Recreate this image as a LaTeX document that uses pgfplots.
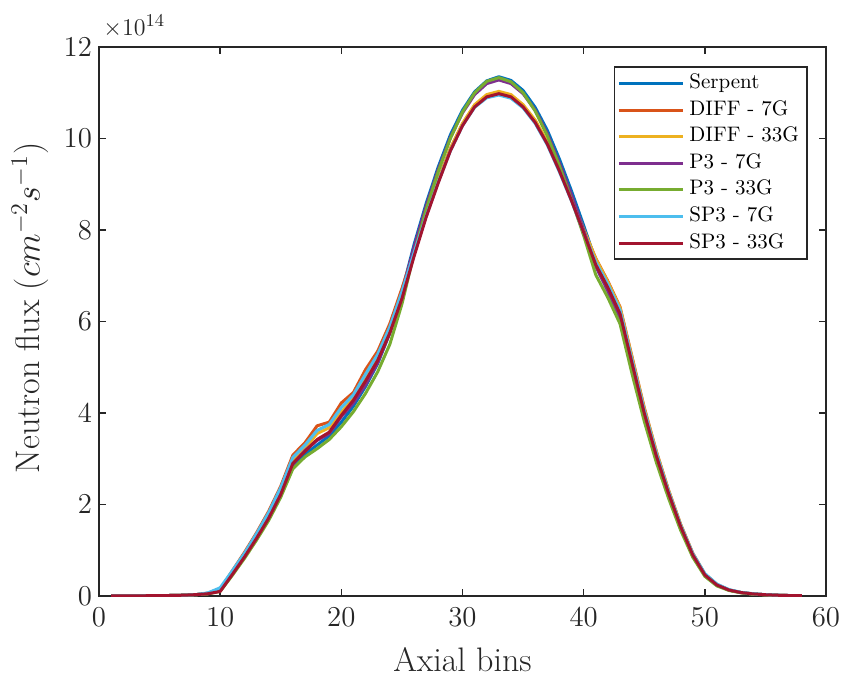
\documentclass[border=0pt]{standalone}
\usepackage{pgfplots}
\pgfplotsset{compat=1.18}
\usepackage{pgfplotstable}
\usetikzlibrary{calc}
\definecolor{mblue}{rgb}{0,0.447,0.741}
\definecolor{morange}{rgb}{0.85,0.325,0.098}
\definecolor{myellow}{rgb}{0.929,0.694,0.125}
\definecolor{mpurple}{rgb}{0.494,0.184,0.556}
\definecolor{mgreen}{rgb}{0.466,0.674,0.188}
\definecolor{mcyan}{rgb}{0.301,0.745,0.933}
\definecolor{mred}{rgb}{0.635,0.078,0.184}
\definecolor{axgray}{rgb}{0.15,0.15,0.15}
\pgfplotstableread{
x B O Y P G C R
1 0.002 0.002 0.002 0.002 0.002 0.002 0.002
2 0.003 0.003 0.003 0.003 0.003 0.003 0.003
3 0.004 0.004 0.004 0.004 0.004 0.004 0.004
4 0.006 0.006 0.006 0.006 0.006 0.006 0.006
5 0.008 0.008 0.008 0.008 0.008 0.008 0.008
6 0.012 0.012 0.012 0.012 0.012 0.012 0.012
7 0.018 0.018 0.018 0.018 0.018 0.018 0.018
8 0.030 0.030 0.030 0.030 0.030 0.030 0.030
9 0.06 0.06 0.05 0.05 0.05 0.07 0.05
10 0.16 0.14 0.12 0.12 0.10 0.18 0.10
11 0.50 0.55 0.50 0.48 0.45 0.55 0.47
12 0.88 0.95 0.90 0.87 0.82 0.93 0.85
13 1.28 1.38 1.32 1.28 1.22 1.36 1.26
14 1.72 1.85 1.78 1.72 1.65 1.82 1.70
15 2.25 2.40 2.32 2.25 2.16 2.37 2.22
16 2.85 3.08 2.98 2.88 2.78 3.03 2.90
17 3.10 3.35 3.22 3.18 3.04 3.30 3.16
18 3.30 3.72 3.55 3.40 3.22 3.62 3.42
19 3.50 3.80 3.68 3.55 3.42 3.75 3.58
20 3.80 4.22 4.02 3.92 3.70 4.12 3.95
21 4.15 4.45 4.32 4.22 4.03 4.40 4.28
22 4.58 4.95 4.78 4.62 4.43 4.85 4.70
23 5.08 5.35 5.22 5.10 4.90 5.28 5.15
24 5.75 5.95 5.82 5.75 5.50 5.88 5.75
25 6.65 6.72 6.60 6.62 6.38 6.65 6.50
26 7.68 7.55 7.48 7.62 7.48 7.50 7.42
27 8.58 8.35 8.32 8.52 8.45 8.30 8.28
28 9.38 9.10 9.08 9.32 9.28 9.05 9.03
29 10.08 9.78 9.78 10.02 10.00 9.73 9.73
30 10.62 10.32 10.33 10.56 10.58 10.28 10.28
31 11.02 10.72 10.74 10.96 11.00 10.68 10.69
32 11.26 10.94 10.96 11.20 11.25 10.89 10.91
33 11.35 11.01 11.03 11.28 11.33 10.95 10.98
34 11.27 10.94 10.96 11.20 11.24 10.88 10.91
35 11.05 10.72 10.74 10.98 11.00 10.67 10.69
36 10.68 10.38 10.40 10.62 10.60 10.33 10.35
37 10.18 9.91 9.93 10.10 10.06 9.86 9.88
38 9.55 9.32 9.34 9.46 9.40 9.27 9.29
39 8.85 8.68 8.70 8.76 8.66 8.63 8.64
40 8.10 8.00 8.02 8.00 7.88 7.95 7.95
41 7.32 7.38 7.37 7.20 7.02 7.30 7.24
42 6.76 6.88 6.86 6.66 6.52 6.81 6.74
43 6.14 6.32 6.30 6.05 5.95 6.25 6.17
44 5.05 5.22 5.20 4.98 4.85 5.15 5.08
45 4.00 4.12 4.10 3.95 3.82 4.06 4.00
46 3.06 3.16 3.15 3.02 2.92 3.12 3.06
47 2.25 2.32 2.31 2.22 2.14 2.29 2.25
48 1.52 1.57 1.56 1.50 1.44 1.55 1.52
49 0.91 0.94 0.93 0.89 0.85 0.93 0.90
50 0.47 0.48 0.48 0.46 0.43 0.49 0.46
51 0.25 0.25 0.25 0.24 0.22 0.26 0.24
52 0.13 0.13 0.13 0.13 0.12 0.14 0.13
53 0.075 0.075 0.075 0.075 0.07 0.08 0.075
54 0.045 0.045 0.045 0.045 0.04 0.05 0.045
55 0.028 0.028 0.028 0.028 0.025 0.03 0.028
56 0.017 0.017 0.017 0.017 0.015 0.018 0.017
57 0.010 0.010 0.010 0.010 0.009 0.011 0.010
58 0.006 0.006 0.006 0.006 0.005 0.006 0.006
}\flux
\begin{document}
\begin{tikzpicture}
\begin{axis}[name=ax, scale only axis, width=363.5pt, height=274.5pt,
  xmin=0, xmax=60, ymin=0, ymax=12,
  xtick={0,10,...,60}, ytick={0,2,...,12},
  tick align=inside, major tick length=3.5pt,
  axis line style={line width=0.8pt, color=axgray},
  every tick/.style={line width=0.8pt, color=axgray},
  ticklabel style={font=\fontsize{15.5}{18}\selectfont, color=axgray},
  xticklabel style={yshift=-2.5pt},
  every axis plot/.append style={line width=1.5pt, line join=round},
  legend image code/.code={\draw[#1] (0pt,0pt) -- (32pt,0pt);},
  legend style={at={(0.975,0.965)}, anchor=north east, draw=axgray, line width=0.9pt,
    font=\fontsize{10.5}{12}\selectfont, inner sep=1.5pt, row sep=0pt,
    nodes={text height=7.5pt, text depth=2.5pt, inner ysep=1.65pt, inner xsep=2.5pt},
    cells={anchor=west}},
]
\addplot[mblue] table[x=x,y=B] {\flux};
\addlegendentry{Serpent}
\addplot[morange] table[x=x,y=O] {\flux};
\addlegendentry{DIFF - 7G}
\addplot[myellow] table[x=x,y=Y] {\flux};
\addlegendentry{DIFF - 33G}
\addplot[mpurple] table[x=x,y=P] {\flux};
\addlegendentry{P3 - 7G}
\addplot[mgreen] table[x=x,y=G] {\flux};
\addlegendentry{P3 - 33G}
\addplot[mcyan] table[x=x,y=C] {\flux};
\addlegendentry{SP3 - 7G}
\addplot[mred] table[x=x,y=R] {\flux};
\addlegendentry{SP3 - 33G}
\end{axis}
\node[anchor=base west, font=\fontsize{12.5}{14}\selectfont, color=axgray, inner sep=0pt] at ($(ax.north west)+(2pt,6pt)$) {$\times10^{14}$};
\node[anchor=base, font=\fontsize{17}{20}\selectfont, color=axgray, inner sep=0pt] at ($(ax.south)+(0,-37.5pt)$) {Axial bins};
\node[rotate=90, anchor=center, font=\fontsize{17}{20}\selectfont, color=axgray, inner sep=0pt] at ($(ax.west)+(-34.5pt,6.75pt)$) {Neutron flux $(cm^{-2}s^{-1})$};
\pgfresetboundingbox
\path[use as bounding box] ($(ax.south west)+(-49.5pt,-40pt)$) rectangle ($(ax.north east)+(8.5pt,23.5pt)$);
\end{tikzpicture}
\end{document}
